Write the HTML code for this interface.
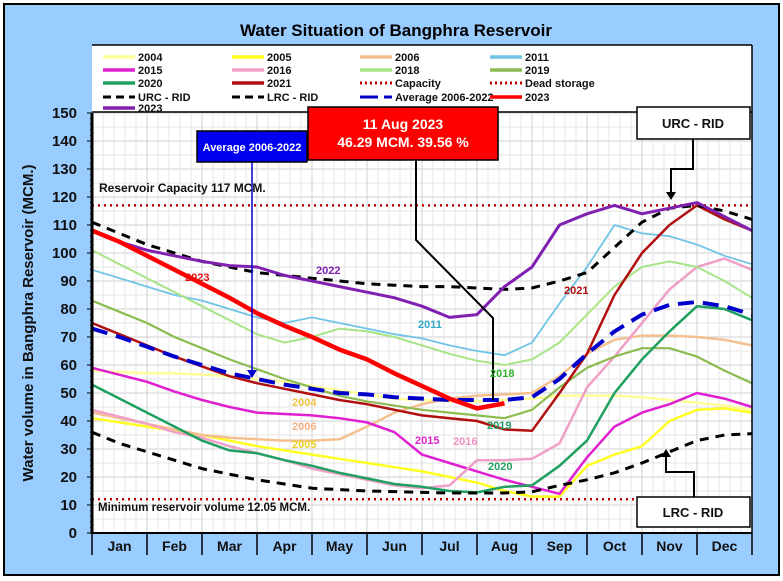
<!DOCTYPE html>
<html><head><meta charset="utf-8"><style>
body{margin:0;background:#fff}
svg{display:block;font-family:"Liberation Sans",sans-serif}
</style></head><body>
<svg id="c" width="783" height="581" viewBox="0 0 783 581">
<rect x="0" y="0" width="783" height="581" fill="#fff"/>
<rect x="4" y="4" width="775" height="571" fill="#99ccff" stroke="#000" stroke-width="2"/>
<text x="396" y="36" text-anchor="middle" font-size="17" font-weight="bold">Water Situation of Bangphra Reservoir</text>
<rect x="92" y="45" width="660" height="488" fill="#fff"/>
<g id="grid"></g>
<g id="series"></g>
<g id="axes"></g>
<g id="legend"></g>
<g id="annot"></g>
</svg>
<script>
const months = ["Jan","Feb","Mar","Apr","May","Jun","Jul","Aug","Sep","Oct","Nov","Dec"];
const yTicks = [0,10,20,30,40,50,60,70,80,90,100,110,120,130,140,150];
const xPos = [0,0.5,1,1.5,2,2.5,3,3.5,4,4.5,5,5.5,6,6.5,7,7.5,8,8.5,9,9.5,10,10.5,11,11.5,12];
const capacity = 117;
const deadStorage = 12.05;
const s2004 = [58,57.5,57,57,56.5,56,55,54,52.5,51,49.5,48,47.5,47,47,47.5,48,49,49,49,48.5,47.5,46.5,45.5,44];
const s2005 = [41,39.5,38,36.5,35,33,31,29.5,28,26.5,25,23.5,22,20,18,15,13,13,24,28,31,40,44,44.5,43];
const s2006 = [43,41,39,37,35,34,33.5,33,33,33.5,38,43,46,48,49,49.5,50,56,64,69,70.5,70.5,70,69,67];
const s2011 = [94,91,88,85,83,80,77,75,77,75,73,71,69.5,67,65,63.5,68,82,95,110,107,106,103,99,96];
const s2015 = [59,56.5,54,50.5,47.5,45,43,42.5,42,41,39.5,36,28,25,22,19,16.5,14,27,38,43,46,50,48,45];
const s2016 = [44,41.5,39,36,34,31,28.5,26,23,21,19,17,16,17,26,26,26.5,32,52,63,75,87,95,98,94];
const s2018 = [101,96,91,86,81,76,71,68,70,73,72,70,67,64,61.5,60,62,68,78,88,95,97,95,90,84];
const s2019 = [83,79,75,70,66,62,58.5,55,52,49,47,45.5,44,43,42,41,44,52,59,63,66,66,63,58,53.5];
const s2020 = [53,48,43,38,33,29.5,28.5,26,24,21.5,19.5,17.5,16.5,15,14.5,16.5,17,24,33,50,62,72,81,80,76];
const s2021 = [75,71,67,63,59.5,56,53.5,51.5,49.5,47.5,46,44,42,41,40,37,36.5,50,64,85,100,110,117,112,108];
const s2022 = [108,104,101,99,97,95.5,95,92,90,88,86,84,81,77,78,88,95,110,114,117,114,116,118,113,108];
const sURC = [111,107,103,100,97,95,93,92,91,90,89,88.5,88,88,87.5,87,87.5,90,93,102,111,116,117,115,112];
const sLRC = [36,32,29,26,23,21,19,17.5,16,15.5,15,14.8,14.5,14.3,14.3,14.3,14.7,17,19,21.5,25,29,33,35,35.5];
const sAvg = [73,70,66.5,63,60,57,55,53,51.5,50,49.5,48.5,48,47.5,47.5,47.5,48.5,55,64,72,78,81.5,82.5,81,78];
const s2023 = [108,104,99,94,89,84,78.5,74,70,65.5,62,57,52.5,48,44.5,46.3,null,null,null,null,null,null,null,null,null];

const NS="http://www.w3.org/2000/svg";
const X0=92,X1=752,Y0=533,YTOP=113;
function xs(m){return X0+(X1-X0)*m/12;}
function ys(v){return Y0-v*2.8;}
function mk(tag,attrs,parent,text){const e=document.createElementNS(NS,tag);for(const k in attrs)e.setAttribute(k,attrs[k]);if(text!==undefined)e.textContent=text;parent.appendChild(e);return e;}
const grid=document.getElementById('grid'),ser=document.getElementById('series'),axes=document.getElementById('axes'),leg=document.getElementById('legend'),ann=document.getElementById('annot');

for(let v=5;v<=150;v+=5){const y=ys(v);if(y<YTOP)continue;const l=mk('line',{x1:X0,x2:X1,y1:y,y2:y,stroke:v%10?'#e4e4e4':'#cfcfcf','stroke-width':1},grid);

}
for(let i=1;i<60;i++){const x=xs(i/5);const l=mk('line',{x1:x,x2:x,y1:YTOP,y2:Y0,stroke:i%5?'#e4e4e4':'#cfcfcf','stroke-width':1},grid);

}

function pathOf(arr){let d='',pen=false;arr.forEach((v,i)=>{if(v===null){pen=false;return;}d+=(pen?'L':'M')+xs(xPos[i]).toFixed(1)+','+ys(v).toFixed(1);pen=true;});return d;}
function hline(v,color,name){const l=mk('line',{x1:X0,x2:X1,y1:ys(v),y2:ys(v),stroke:color,'stroke-width':2.5,'stroke-dasharray':'2 4'},ser);

}
hline(capacity,'#c00000','capacity-line');
hline(deadStorage,'#c00000','dead-storage-line');

const seriesList=[
 [s2004,'#ffff99',2.5,null,'series-2004'],
 [s2005,'#ffff22',2.5,null,'series-2005'],
 [s2006,'#f4c090',2.5,null,'series-2006'],
 [s2011,'#70c4e6',1.8,null,'series-2011'],
 [s2015,'#e020d0',2.5,null,'series-2015'],
 [s2016,'#f0a0c8',2.5,null,'series-2016'],
 [s2018,'#a8e488',2,null,'series-2018'],
 [s2019,'#8cbc50',2.2,null,'series-2019'],
 [s2020,'#20a060',2.5,null,'series-2020'],
 [s2021,'#b01010',2.5,null,'series-2021'],
 [sURC,'#000',3,'9 7','series-urc-rid'],
 [sLRC,'#000',3,'9 7','series-lrc-rid'],
 [s2022,'#8020b0',3,null,'series-2022'],
 [sAvg,'#0000cc',4,'16 9','series-average-2006-2022'],
 [s2023,'#ff0000',4.5,null,'series-2023']
];
seriesList.forEach(s=>{const p=mk('path',{d:pathOf(s[0]),fill:'none',stroke:s[1],'stroke-width':s[2],'stroke-linejoin':'round'},ser);if(s[3])p.setAttribute('stroke-dasharray',s[3]);

});

let a=mk('line',{x1:X0,x2:X0,y1:YTOP,y2:Y0+1,stroke:'#000','stroke-width':3},axes);


a=mk('line',{x1:X0,x2:X1,y1:Y0,y2:Y0,stroke:'#000','stroke-width':2},axes);


for(let v=0;v<=150;v+=2){const y=ys(v);const t=mk('line',{x1:X0-(v%10?2:5),x2:X0,y1:y,y2:y,stroke:'#000','stroke-width':1},axes);

}
yTicks.forEach(v=>{const t=mk('text',{x:77,y:ys(v)+5,'text-anchor':'end','font-size':15,'font-weight':'bold',fill:'#111'},axes,String(v));

});
months.forEach((m,i)=>{const t=mk('text',{x:xs(i+0.5),y:551,'text-anchor':'middle','font-size':14,'font-weight':'bold',fill:'#111'},axes,m);

});
for(let i=0;i<=12;i++){const l=mk('line',{x1:xs(i),x2:xs(i),y1:Y0,y2:555,stroke:'#000','stroke-width':1.5},axes);

}
a=mk('text',{x:0,y:0,transform:'translate(33,323) rotate(-90)','text-anchor':'middle','font-size':15,'font-weight':'bold',fill:'#111'},axes,'Water volume in Bangphra Reservoir (MCM.)');



const legLabels=[["2004","2005","2006","2011"],["2015","2016","2018","2019"],["2020","2021","Capacity","Dead storage"],["URC - RID","LRC - RID","Average 2006-2022","2023"],["2023"]];
const legColors=[["#ffff99","#ffff22","#f4c090","#70c4e6"],["#e020d0","#f0a0c8","#a8e488","#8cbc50"],["#20a060","#b01010","#c00000","#c00000"],["#000","#000","#0000cc","#ff0000"],["#8020b0"]];
const legStyle=[["s","s","s","s"],["s","s","s","s"],["s","s","d","d"],["k","k","a","s"],["s"]];
const colX=[103,232,360,490],rowY=[57,70,83,97,108];
a=mk('line',{x1:92,x2:752,y1:112,y2:112,stroke:'#000','stroke-width':1.5},leg);


a=mk('line',{x1:92,x2:752,y1:45,y2:45,stroke:'#000','stroke-width':1.5},leg);


a=mk('line',{x1:752,x2:752,y1:45,y2:533,stroke:'#000','stroke-width':1.5},leg);


legLabels.forEach((row,r)=>row.forEach((lab,c)=>{const g=mk('g',{},leg);


const st=legStyle[r][c];const y=rowY[r];const x=colX[c];
const ln=mk('line',{x1:x,x2:x+32,y1:y,y2:y,stroke:legColors[r][c],'stroke-width':st==='s'?3.5:3},g);
if(st==='d')ln.setAttribute('stroke-dasharray','2 3');if(st==='k')ln.setAttribute('stroke-dasharray','8 5');if(st==='a')ln.setAttribute('stroke-dasharray','18 6');
mk('text',{x:x+35,y:y+4,'font-size':11,'font-weight':'bold',fill:'#111'},g,lab);}));

function box(x,y,w,h,fill,name){const r=mk('rect',{x:x,y:y,width:w,height:h,fill:fill,stroke:'#000','stroke-width':1.5},ann);

}
function txt(x,y,s,size,color,name,anchor){const t=mk('text',{x:x,y:y,'font-size':size,'font-weight':'bold',fill:color,'text-anchor':anchor||'start'},ann,s);

}
function poly(pts,name,color,w){const p=mk('polyline',{points:pts,fill:'none',stroke:color||'#000','stroke-width':w||2},ann);

}
function arrow(x,y,dir,color,name){const d=dir>0?`M${x-5},${y-8}L${x+5},${y-8}L${x},${y}Z`:`M${x-5},${y+8}L${x+5},${y+8}L${x},${y}Z`;const p=mk('path',{d:d,fill:color},ann);

}
poly('252,162 252,372','average-pointer-line','#0000cc',1.5);
arrow(252,378,1,'#0000cc','average-pointer-arrow');
box(197,131,110,31,'#0000ee','average-callout-box');
txt(252,151,'Average 2006-2022',11,'#fff','average-callout-text','middle');
poly('416,160 416,240 493,318 493,400','date-pointer-line');
box(308,107,190,53,'#ff0000','date-callout-box');
txt(403,129,'11 Aug 2023',14,'#fff','date-callout-date','middle');
txt(403,147,'46.29 MCM. 39.56 %',14,'#fff','date-callout-value','middle');
poly('693,139 693,169 671,169 671,194','urc-pointer-line');
arrow(671,200,1,'#000','urc-pointer-arrow');
box(637,107,113,32,'#fff','urc-label-box');
txt(693,128,'URC - RID',13,'#111','urc-label-text','middle');
poly('694,497 694,472 666,472 666,455','lrc-pointer-line');
arrow(666,449,-1,'#000','lrc-pointer-arrow');
box(637,497,113,30,'#fff','lrc-label-box');
txt(693,517,'LRC - RID',13,'#111','lrc-label-text','middle');
txt(99,192,'Reservoir Capacity 117 MCM.',12,'#111','capacity-label');
txt(98,511,'Minimum reservoir volume 12.05 MCM.',11.5,'#111','dead-storage-label');
const yearLabels=[["2023",185,281,"#e01010"],["2022",316,274,"#8020b0"],["2011",418,328,"#30a8c8"],["2018",490,377,"#30b030"],["2004",292,406,"#f0c040"],["2006",292,430,"#f0b080"],["2005",292,448,"#e8d020"],["2015",415,444,"#e020d0"],["2016",453,445,"#f090c0"],["2019",487,429,"#20a060"],["2020",488,470,"#20a060"],["2021",564,294,"#b01010"]];
yearLabels.forEach(l=>txt(l[1],l[2],l[0],11,l[3],'year-label-'+l[0]));
</script>
</body></html>
